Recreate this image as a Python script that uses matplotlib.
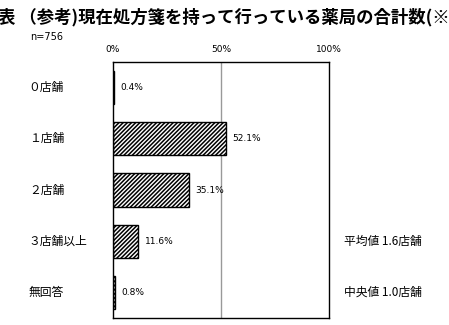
import matplotlib.pyplot as plt

plt.rcParams['font.family'] = ['Noto Sans CJK JP', 'DejaVu Sans']
plt.rcParams['hatch.linewidth'] = 1.1

categories = ['０店舗', '１店舗', '２店舗', '３店舗以上', '無回答']
values = [0.4, 52.1, 35.1, 11.6, 0.8]
value_labels = ['0.4%', '52.1%', '35.1%', '11.6%', '0.8%']
tick_vals = [0, 50, 100]
tick_labels = ['0%', '50%', '100%']
title = '表 （参考)現在処方箋を持って行っている薬局の合計数(※'
notes = ['平均値 1.6店舗', '中央値 1.0店舗']

fig = plt.figure(figsize=(4.49, 3.25), dpi=100)
ax = fig.add_axes([0.2517, 0.0215, 0.481, 0.7877])

y = list(range(len(categories)))
ax.barh(y, values, height=0.65, color='white', edgecolor='black',
        linewidth=1.0, hatch='////////')
ax.set_ylim(len(categories) - 0.5, -0.5)
ax.set_xlim(0, 100)
ax.axvline(50, color='#999999', linewidth=1.0, zorder=0)

ax.xaxis.tick_top()
ax.set_xticks(tick_vals)
ax.set_xticklabels(tick_labels, fontsize=6.5, family='DejaVu Sans')
ax.tick_params(axis='x', length=0, pad=6)
ax.set_yticks([])
for s in ax.spines.values():
    s.set_linewidth(1.0)

for yi, v, lab in zip(y, values, value_labels):
    ax.text(v + 3, yi, lab, va='center', ha='left', fontsize=6.5,
            family='DejaVu Sans')

for yi, cat in zip(y, categories):
    ax.text(-39, yi, cat, va='center', ha='left', fontsize=8.5)

ax.text(107, 3, notes[0], va='center', ha='left', fontsize=8.5)
ax.text(107, 4, notes[1], va='center', ha='left', fontsize=8.5)

fig.text(-0.005, 0.946, title, fontsize=12.5, fontweight='bold',
         va='center', ha='left')
fig.text(0.067, 0.887, 'n=756', fontsize=7, va='center', ha='left',
         family='DejaVu Sans')

fig.savefig('out.png', dpi=100)
